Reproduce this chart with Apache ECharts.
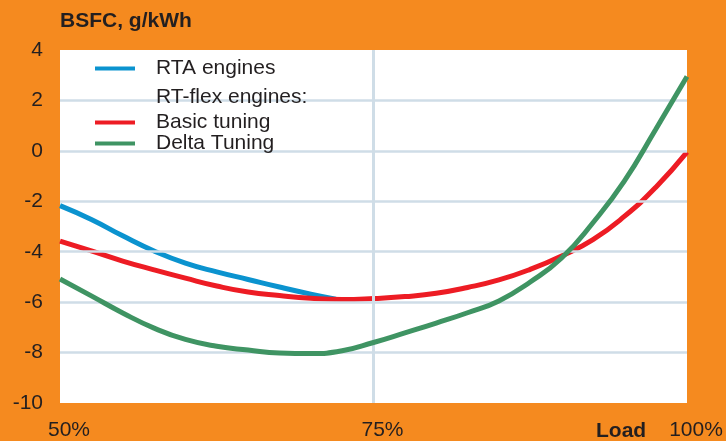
<!DOCTYPE html>
<html>
<head>
<meta charset="utf-8">
<script src="https://cdn.jsdelivr.net/npm/echarts@6/dist/echarts.min.js"></script>
<style>
html,body{margin:0;padding:0;background:#f58a1f;}
#c{width:726px;height:441px;}
</style>
</head>
<body>
<div id="c"></div>
<script>
const yTitle = 'BSFC, g/kWh';
const xName = 'Load';
const seriesNames = ['RTA engines', 'Basic tuning', 'Delta Tuning'];
const groupLabel = 'RT-flex engines:';

const loadsRTA = [50, 52.5, 55, 57.5, 60, 62.5, 65, 67.5, 70, 72];
const rtaValues = [-2.17, -2.72, -3.37, -3.97, -4.45, -4.8, -5.1, -5.4, -5.68, -5.88];

const loadsFlex = [50, 52.5, 55, 57.5, 60, 62.5, 65, 67.5, 70, 72.5, 75, 77.5, 80, 82.5, 85, 87.5, 90, 92.5, 95, 97.5, 100];
const basicValues = [-3.58, -3.97, -4.37, -4.72, -5.05, -5.36, -5.6, -5.74, -5.85, -5.9, -5.86, -5.78, -5.65, -5.42, -5.12, -4.7, -4.17, -3.52, -2.6, -1.45, -0.05];
const deltaValues = [-5.08, -5.75, -6.43, -7.03, -7.48, -7.75, -7.9, -8.02, -8.04, -7.93, -7.6, -7.22, -6.83, -6.42, -5.95, -5.2, -4.25, -2.85, -1.2, 0.85, 2.95];

const xTicks = [50, 75, 100];
const hGridValues = [-8, -6, -4, -2, 0, 2];
const vGridValues = [75];

const FONT = '"Liberation Sans", Arial, Helvetica, sans-serif';
const ORANGE = '#f58a1f';
const BLUE = '#0b93cf';
const RED = '#ed1c24';
const GREEN = '#3f9463';
const GRID = '#cfdde7';
const TEXT = '#231f20';

function pairs(xs, ys) { return xs.map((x, i) => [x, ys[i]]); }

const chart = echarts.init(document.getElementById('c'), null, {renderer: 'canvas'});
chart.setOption({
  backgroundColor: ORANGE,
  animation: false,
  textStyle: {fontFamily: FONT},
  grid: {left: 60, right: 39, top: 50, bottom: 37, show: true, backgroundColor: '#ffffff', borderWidth: 0},
  xAxis: {
    type: 'value', min: 50, max: 100, interval: 25,
    axisLine: {show: false}, axisTick: {show: false},
    axisLabel: {
      color: TEXT, fontSize: 21, fontFamily: FONT, margin: 17, padding: [0, 0, 0, 18],
      formatter: v => xTicks.indexOf(v) >= 0 ? v + '%' : ''
    },
    splitLine: {show: false}
  },
  yAxis: {
    type: 'value', min: -10, max: 4, interval: 2,
    axisLine: {show: false}, axisTick: {show: false},
    axisLabel: {color: TEXT, fontSize: 21, fontFamily: FONT, margin: 17},
    splitLine: {show: false}
  },
  legend: [
    {
      data: [seriesNames[0]],
      left: 90, top: 53, orient: 'vertical', zlevel: 1, z: 10,
      icon: 'rect', itemWidth: 40, itemHeight: 4,
      textStyle: {color: TEXT, fontSize: 21, fontFamily: FONT, padding: [0, 0, 0, 16]},
      selectedMode: false
    },
    {
      data: [seriesNames[1], seriesNames[2]],
      left: 90, top: 107, orient: 'vertical', itemGap: 0, zlevel: 1, z: 10,
      icon: 'rect', itemWidth: 40, itemHeight: 4,
      textStyle: {color: TEXT, fontSize: 21, fontFamily: FONT, padding: [0, 0, 0, 16]},
      selectedMode: false
    }
  ],
  graphic: [
    {type: 'text', left: 60, top: 11, z: 100, zlevel: 1, style: {text: yTitle, fill: TEXT, font: 'bold 21px ' + FONT}},
    {type: 'text', left: 156, top: 87, z: 100, zlevel: 1, style: {text: groupLabel, fill: TEXT, font: '21px ' + FONT}},
    {type: 'text', left: 596, top: 421, z: 100, zlevel: 1, style: {text: xName, fill: TEXT, font: 'bold 21px ' + FONT}}
  ],
  series: [
    {
      name: 'grid', type: 'line', data: [], silent: true, z: 1,
      markLine: {
        silent: true, symbol: 'none', animation: false,
        label: {show: false},
        data: hGridValues.map(v => ({yAxis: v, lineStyle: {color: GRID, width: 2.5, type: 'solid'}}))
          .concat(vGridValues.map(v => ({xAxis: v, lineStyle: {color: GRID, width: 3, type: 'solid'}})))
      }
    },
    {name: seriesNames[0], type: 'line', data: pairs(loadsRTA, rtaValues), smooth: true, showSymbol: false,
     lineStyle: {color: BLUE, width: 5}, itemStyle: {color: BLUE}, z: 3},
    {name: seriesNames[1], type: 'line', data: pairs(loadsFlex, basicValues), smooth: true, showSymbol: false,
     lineStyle: {color: RED, width: 5}, itemStyle: {color: RED}, z: 4},
    {name: seriesNames[2], type: 'line', data: pairs(loadsFlex, deltaValues), smooth: true, showSymbol: false,
     lineStyle: {color: GREEN, width: 5}, itemStyle: {color: GREEN}, z: 5}
  ]
});
</script>
</body>
</html>
